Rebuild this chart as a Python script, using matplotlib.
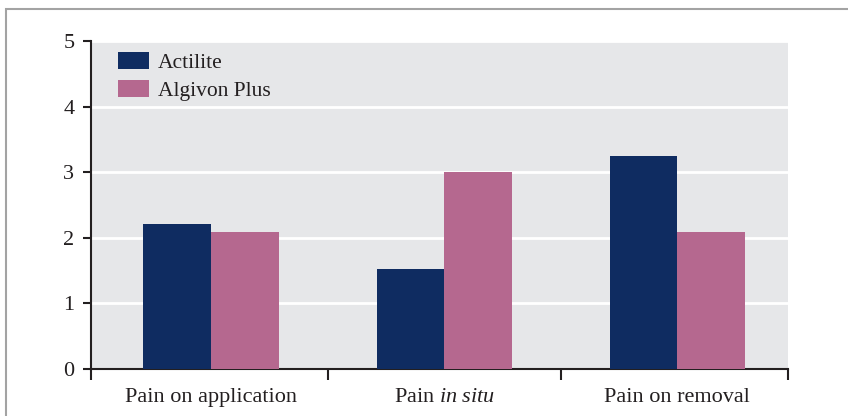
import matplotlib
matplotlib.use('Agg')
import matplotlib.pyplot as plt
from matplotlib.patches import Rectangle
import numpy as np

categories = ['Pain on application', 'Pain $\\it{in\\ situ}$', 'Pain on removal']
actilite = [2.21, 1.52, 3.24]
algivon = [2.09, 3.01, 2.09]

NAVY = '#0f2c61'
PINK = '#b5688f'
BG = '#e6e7e9'
INK = '#231f20'

plt.rcParams['font.family'] = 'Liberation Serif'
plt.rcParams['mathtext.fontset'] = 'custom'
plt.rcParams['mathtext.it'] = 'Liberation Serif:italic'
plt.rcParams['mathtext.rm'] = 'Liberation Serif'

fig = plt.figure(figsize=(8.48, 4.16), dpi=100)

# outer grey frame (top and left visible, rest runs off the picture)
fig.patches.append(Rectangle((6/848, -0.1), 1.2, 1 - 9/416 + 0.1, transform=fig.transFigure,
                             fill=False, edgecolor='#a3a3a3', linewidth=1.5))

ax = fig.add_axes([91/848, 1 - 369/416, 697/848, 328/416])
ax.set_facecolor(BG)

x = np.arange(len(categories))
w = 0.29
ax.bar(x - w/2, actilite, w, color=NAVY, label='Actilite', zorder=3)
ax.bar(x + w/2, algivon, w, color=PINK, label='Algivon Plus', zorder=3)

xlo, xhi = -0.515, 2.475
ax.set_xlim(xlo, xhi)
ax.set_ylim(0, 5)
ax.set_yticks([0, 1, 2, 3, 4, 5])
ax.yaxis.grid(True, color='white', linewidth=2, zorder=1)
ax.set_axisbelow(True)

ax.set_xticks(x)
ax.set_xticklabels(categories)
ax.set_xticks([xlo, 0.5, 1.5, xhi], minor=True)
ax.tick_params(axis='x', which='major', length=0, pad=14, labelsize=16, colors=INK)
ax.tick_params(axis='x', which='minor', length=8, width=1.5, direction='out', color=INK)
ax.tick_params(axis='y', length=6, width=1.5, pad=6, labelsize=16, colors=INK)

for s in ['top', 'right']:
    ax.spines[s].set_visible(False)
for s in ['left', 'bottom']:
    ax.spines[s].set_linewidth(1.5)
    ax.spines[s].set_color(INK)

leg = ax.legend(loc='upper left', bbox_to_anchor=(27/697, 0.966), frameon=False, fontsize=15.5,
                handlelength=1.44, handleheight=0.84, handletextpad=0.42, labelspacing=0.3,
                borderaxespad=0, borderpad=0)
for t in leg.get_texts():
    t.set_color(INK)

fig.savefig('out.png', dpi=100)
